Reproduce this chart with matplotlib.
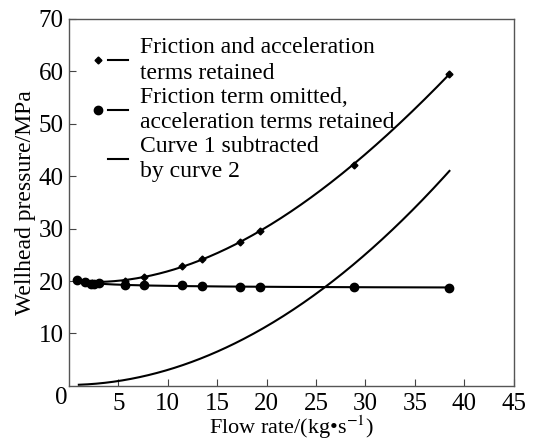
import numpy as np
import matplotlib
matplotlib.use("Agg")
import matplotlib.pyplot as plt
from matplotlib.lines import Line2D
from matplotlib.legend_handler import HandlerTuple

plt.rcParams['font.family'] = ['Liberation Serif', 'DejaVu Serif']
plt.rcParams['mathtext.fontset'] = 'stix'

# Curve 1: friction and acceleration terms retained
x1 = [0.8, 1.8, 2.3, 3.0, 5.7, 7.6, 11.4, 13.5, 17.3, 19.3, 28.8, 38.5]
y1 = [20.2, 19.9, 19.6, 19.7, 20.0, 20.8, 22.8, 24.2, 27.5, 29.5, 42.2, 59.5]
# Curve 2: friction term omitted, acceleration terms retained
x2 = [0.8, 1.6, 2.2, 2.5, 3.0, 5.7, 7.6, 11.4, 13.5, 17.3, 19.3, 28.8, 38.5]
y2 = [20.2, 19.9, 19.5, 19.4, 19.6, 19.2, 19.2, 19.3, 19.0, 18.8, 18.9, 18.9, 18.7]
# Curve 3: curve 1 subtracted by curve 2
x3 = [1.0, 3.0, 5.7, 7.6, 11.4, 13.5, 17.3, 19.3, 25.8, 28.8, 38.5]
y3 = [0.1, 0.6, 1.2, 1.8, 3.9, 5.3, 8.6, 10.6, 18.7, 23.2, 41.0]

xticks = [5, 10, 15, 20, 25, 30, 35, 40, 45]
yticks = [10, 20, 30, 40, 50, 60, 70]
labels = ['Friction and acceleration\nterms retained',
          'Friction term omitted,\nacceleration terms retained',
          'Curve 1 subtracted\nby curve 2']

fig = plt.figure(figsize=(5.43, 4.41), dpi=100)
ax = fig.add_axes([0.127, 0.125, 0.819, 0.832])

def smooth(x, y, deg, logx=False):
    x = np.asarray(x, float)
    xs = np.linspace(x.min(), x.max(), 300)
    if logx:
        p = np.polyfit(np.log(x), y, deg)
        return xs, np.polyval(p, np.log(xs))
    p = np.polyfit(x, y, deg)
    return xs, np.polyval(p, xs)

xs1, ys1 = smooth(x1, y1, 3)
xs2, ys2 = smooth(x2, y2, 2, logx=True)
xs3, ys3 = smooth(x3, y3, 3)

lw = 1.5
ax.plot(xs1, ys1, color='black', lw=lw)
ax.plot(x1, y1, 'D', color='black', ms=3.5, ls='none')
ax.plot(xs2, ys2, color='black', lw=lw)
ax.plot(x2, y2, 'o', color='black', ms=6, ls='none')
ax.plot(xs3, ys3, color='black', lw=lw)

ax.set_xlim(0, 45)
ax.set_ylim(0, 70)
ax.set_xticks(xticks)
ax.set_yticks(yticks)
ax.tick_params(direction='in', length=5, labelsize=18, color='#444', top=False, right=False, pad=5)
ax.tick_params(axis='y', pad=4)
for s in ax.spines.values():
    s.set_color('#555')
    s.set_linewidth(1.0)
ax.text(-0.018, -0.033, '0', transform=ax.transAxes, fontsize=18, ha='center', va='center')

ax.set_xlabel('Flow rate/(kg•s$^{-1}$)', fontsize=16, labelpad=-1)
ax.set_ylabel('Wellhead pressure/MPa', fontsize=17, labelpad=2)

m1 = Line2D([], [], marker='D', color='black', ms=3.5, ls='none')
m2 = Line2D([], [], marker='o', color='black', ms=6, ls='none')
m3 = Line2D([], [], marker=None, color='white', ls='none')
ln = Line2D([], [], color='black', lw=1.5)
leg = ax.legend([(m1, ln), (m2, ln), (m3, ln)], labels,
                handler_map={tuple: HandlerTuple(ndivide=None, pad=0.0)},
                loc='upper left', bbox_to_anchor=(0.043, 0.95), frameon=False,
                fontsize=17, handlelength=1.7, handletextpad=0.5,
                labelspacing=0.12, borderaxespad=0.0, borderpad=0.0)
for t in leg.get_texts():
    t.set_linespacing(1.28)

fig.savefig('out.png', dpi=100)
